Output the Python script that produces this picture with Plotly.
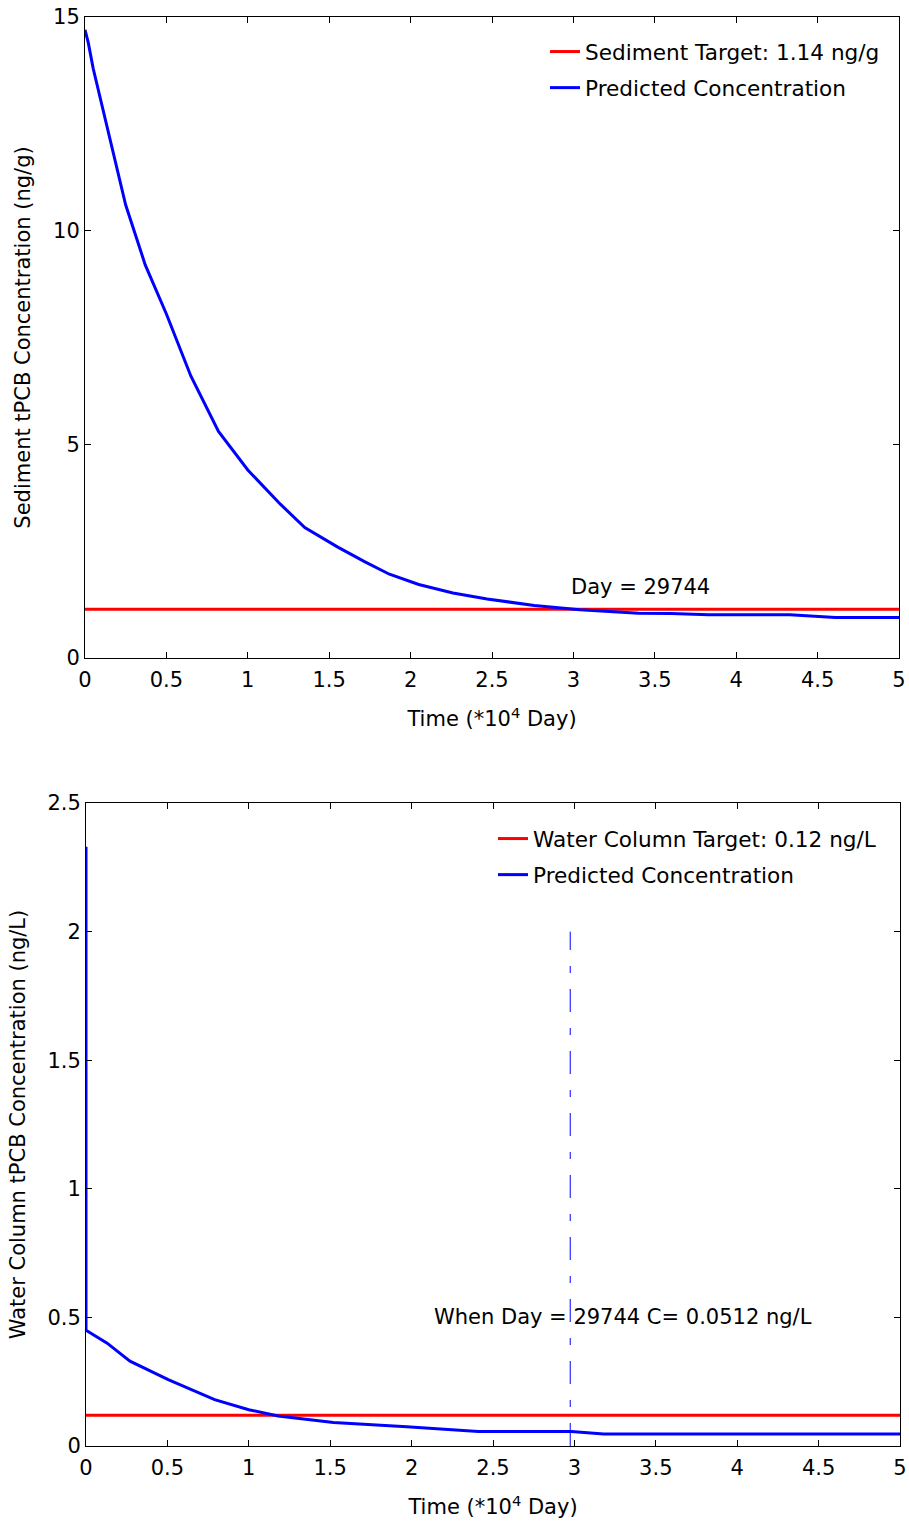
import plotly.graph_objects as go

# ---- data (time in 10^4 days) ----
sed_time = [0, 0.02, 0.05, 0.15, 0.25, 0.37, 0.5, 0.65, 0.82, 1.0, 1.2, 1.35, 1.55,
            1.72, 1.87, 2.05, 2.26, 2.47, 2.76, 3.04, 3.2, 3.4, 3.6, 3.83, 4.33, 4.61, 5.0]
sed_conc = [14.7, 14.4, 13.8, 12.2, 10.6, 9.2, 8.05, 6.6, 5.3, 4.4, 3.6, 3.05, 2.6,
            2.25, 1.96, 1.72, 1.52, 1.38, 1.23, 1.13, 1.09, 1.05, 1.04, 1.01, 1.01, 0.95, 0.95]
sed_target = 1.14

wc_time = [0, 0, 0.13, 0.27, 0.505, 0.79, 1.0, 1.18, 1.52, 1.97, 2.41, 2.98, 3.18, 5.0]
wc_conc = [2.33, 0.45, 0.40, 0.33, 0.258, 0.18, 0.141, 0.117, 0.091, 0.075, 0.056, 0.056, 0.047, 0.047]
wc_target = 0.12

day_hit = 2.9744
c_hit = 0.0512

x_range = [0, 5]
x_ticks = [0, 0.5, 1, 1.5, 2, 2.5, 3, 3.5, 4, 4.5, 5]
x_ticklabels = ["0", "0.5", "1", "1.5", "2", "2.5", "3", "3.5", "4", "4.5", "5"]
sed_yticks = [0, 5, 10, 15]
wc_yticks = [0, 0.5, 1, 1.5, 2, 2.5]
wc_yticklabels = ["0", "0.5", "1", "1.5", "2", "2.5"]

FONT = "DejaVu Sans"
W, H = 909, 1521
ML, MR, MT, MB = 85, 9, 17, 75
PW, PH = W - ML - MR, H - MT - MB


def px_x(p):
    return (p - ML) / PW


def px_y(p):
    return 1 - (p - MT) / PH


fig = go.Figure()

# top plot
fig.add_trace(go.Scatter(x=x_range, y=[sed_target, sed_target], mode="lines",
                         line=dict(color="#ff0000", width=3),
                         name="Sediment Target: 1.14 ng/g", legend="legend",
                         legendgroup="a", xaxis="x", yaxis="y"))
fig.add_trace(go.Scatter(x=sed_time, y=sed_conc, mode="lines",
                         line=dict(color="#0000ff", width=3),
                         name="Predicted Concentration", legend="legend",
                         legendgroup="b", xaxis="x", yaxis="y"))

# bottom plot
fig.add_trace(go.Scatter(x=x_range, y=[wc_target, wc_target], mode="lines",
                         line=dict(color="#ff0000", width=3),
                         name="Water Column Target: 0.12 ng/L", legend="legend2",
                         legendgroup="c", xaxis="x2", yaxis="y2"))
fig.add_trace(go.Scatter(x=wc_time, y=wc_conc, mode="lines",
                         line=dict(color="#0000ff", width=3),
                         name="Predicted Concentration", legend="legend2",
                         legendgroup="d", xaxis="x2", yaxis="y2"))
fig.add_trace(go.Scatter(x=[day_hit, day_hit], y=[0, 2.0], mode="lines",
                         line=dict(color="#0000ff", width=1, dash="23px,16px,7px,16px"),
                         showlegend=False, xaxis="x2", yaxis="y2"))

axis_common = dict(showline=True, linecolor="black", linewidth=1, mirror="ticks",
                   ticks="inside", ticklen=6, tickcolor="black", showgrid=False,
                   zeroline=False, automargin=False,
                   tickfont=dict(family=FONT, size=21, color="black"))

title_font = dict(family=FONT, size=21, color="black")
legend_font = dict(family=FONT, size=21.6, color="black")

fig.update_layout(
    width=W, height=H,
    margin=dict(l=ML, r=MR, t=MT, b=MB, autoexpand=False),
    paper_bgcolor="white", plot_bgcolor="white",
    font=dict(family=FONT, size=21, color="black"),
    xaxis=dict(domain=[0, (899 - ML) / PW], range=x_range, tickvals=x_ticks,
               ticktext=x_ticklabels, anchor="y", ticklabelstandoff=3,
               title=dict(text="Time (*10<sup>4</sup> Day)", font=title_font, standoff=20),
               **axis_common),
    yaxis=dict(domain=[(1446 - 658) / PH, 1], range=[0, 15], tickvals=sed_yticks,
               anchor="x",
               title=dict(text="Sediment tPCB Concentration (ng/g)", font=title_font, standoff=16),
               **axis_common),
    xaxis2=dict(domain=[1 / PW, 1], range=x_range, tickvals=x_ticks,
                ticktext=x_ticklabels, anchor="y2", ticklabelstandoff=3,
                title=dict(text="Time (*10<sup>4</sup> Day)", font=title_font, standoff=20),
                **axis_common),
    yaxis2=dict(domain=[0, (1446 - 803) / PH], range=[0, 2.5], tickvals=wc_yticks,
                ticktext=wc_yticklabels, anchor="x2",
                title=dict(text="Water Column tPCB Concentration (ng/L)", font=title_font, standoff=16),
                **axis_common),
    legend=dict(x=px_x(545), y=px_y(31), xref="paper", yref="paper",
                xanchor="left", yanchor="top",
                bgcolor="rgba(0,0,0,0)", font=legend_font,
                traceorder="grouped", tracegroupgap=5),
    legend2=dict(x=px_x(493), y=px_y(818), xref="paper", yref="paper",
                 xanchor="left", yanchor="top",
                 bgcolor="rgba(0,0,0,0)", font=legend_font,
                 traceorder="grouped", tracegroupgap=5),
    showlegend=True,
    annotations=[
        dict(x=day_hit, y=1.66, xref="x", yref="y", text="Day = 29744", showarrow=False,
             xanchor="left", yanchor="middle", font=dict(family=FONT, size=21)),
        dict(x=2.125, y=0.5, xref="x2", yref="y2",
             text="When Day = 29744 C= 0.0512 ng/L", showarrow=False,
             xanchor="left", yanchor="middle", font=dict(family=FONT, size=21)),
    ],
)

fig.write_html("out.html", config={"displayModeBar": False},
               post_script="document.body.style.margin='0';document.body.style.padding='0';")
